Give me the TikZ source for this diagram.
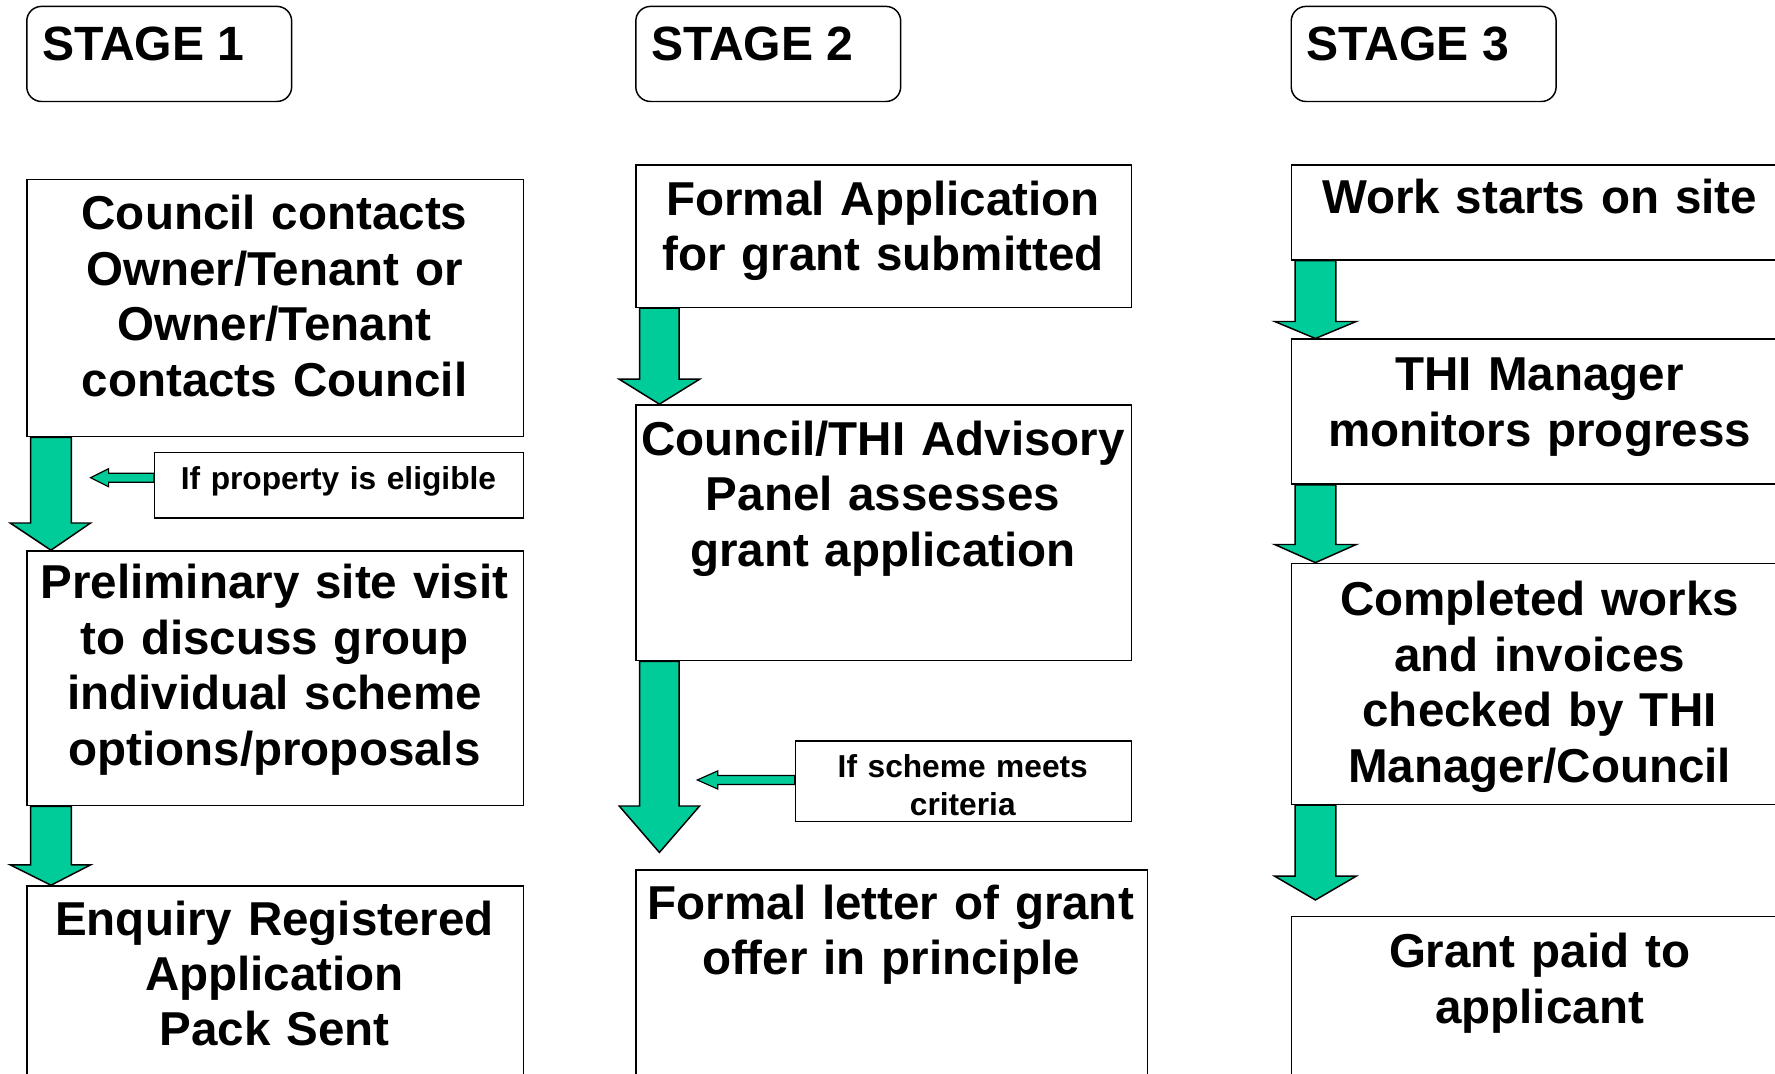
\documentclass[tikz,border=0pt]{standalone}
\usepackage{fontspec}
\setmainfont{Liberation Sans}
\definecolor{tgreen}{RGB}{0,204,153}
\begin{document}
\begin{tikzpicture}[x=1pt,y=-1pt,
  box/.style={draw, line width=1.3pt, inner sep=0pt, anchor=north west},
  txt/.style={font=\bfseries\fontsize{42}{49}\selectfont, align=center, inner sep=0pt, anchor=base},
  small/.style={font=\bfseries\fontsize{28}{33}\selectfont, align=center, inner sep=0pt, anchor=base},
  stg/.style={draw, line width=1.3pt, rounded corners=13pt, inner sep=0pt, anchor=north west, minimum width=234pt, minimum height=84pt},
  stgtxt/.style={font=\bfseries\fontsize{42.5}{49}\selectfont, inner sep=0pt, anchor=base west},
  garrow/.style={draw=black, fill=tgreen, line width=1.3pt, line join=miter},
  sarrow/.style={draw=black, fill=tgreen, line width=1pt, line join=miter}]
\useasboundingbox (0,0) rectangle (1568,948);
\clip (0,0) rectangle (1568,948);
\fill[white] (0,0) rectangle (1568,948);

% stage headers
\node[stg] (s1) at (23,5) {};
\node[stgtxt] (s1t) at (37,53) {STAGE 1};
\node[stg] (s2) at (561,5) {};
\node[stgtxt] (s2t) at (575,53) {STAGE 2};
\node[stg] (s3) at (1140,5) {};
\node[stgtxt] (s3t) at (1154,53) {STAGE 3};

% column 1
\node[box, minimum width=439pt, minimum height=227pt] (A) at (23,158) {};
\node[txt, text width=439pt] (At) at (242.5,203) {Council contacts\\Owner/Tenant or\\Owner/Tenant\\contacts Council};
\node[box, minimum width=439pt, minimum height=225pt] (B) at (23,486) {};
\node[txt, text width=439pt] (Bt) at (242.5,529) {Preliminary site visit\\to discuss group\\individual scheme\\options/proposals};
\node[box, minimum width=439pt, minimum height=220pt] (C) at (23,782) {};
\node[txt, text width=439pt] (Ct) at (242.5,826) {Enquiry Registered\\Application\\Pack Sent};
\node[box, minimum width=326pt, minimum height=58pt] (L1) at (136,399) {};
\node[small, text width=326pt] (L1t) at (299,432) {If property is eligible};

% column 2
\node[box, minimum width=438pt, minimum height=126pt] (D) at (561,145) {};
\node[txt, text width=438pt] (Dt) at (780,190) {Formal Application\\for grant submitted};
\node[box, minimum width=438pt, minimum height=226pt] (E) at (561,357) {};
\node[txt, text width=438pt] (Et) at (780,402) {Council/THI Advisory\\Panel assesses\\grant application};
\node[box, minimum width=297pt, minimum height=71pt] (L2) at (702,654) {};
\node[small, text width=297pt] (L2t) at (850.5,687) {If scheme meets\\criteria};
\node[box, minimum width=452pt, minimum height=220pt] (F) at (561,768) {};
\node[txt, text width=452pt] (Ft) at (787,812) {Formal letter of grant\\offer in principle};

% column 3
\node[box, minimum width=440pt, minimum height=84pt] (G) at (1140,145) {};
\node[txt, text width=440pt] (Gt) at (1360,189) {Work starts on site};
\node[box, minimum width=440pt, minimum height=128pt] (H) at (1140,299) {};
\node[txt, text width=440pt] (Ht) at (1360,345) {THI Manager\\monitors progress};
\node[box, minimum width=440pt, minimum height=213pt] (I) at (1140,497) {};
\node[txt, text width=440pt] (It) at (1360,544) {Completed works\\and invoices\\checked by THI\\Manager/Council};
\node[box, minimum width=440pt, minimum height=220pt] (J) at (1140,809) {};
\node[txt, text width=440pt] (Jt) at (1360,855) {Grant paid to\\applicant};

% free arrow ends
\coordinate (t4) at (582.5,753);
\coordinate (t7) at (1162,795);
\coordinate (l1tip) at (80,422);
\coordinate (l2tip) at (616,689);

% big block arrows
\draw[garrow] (A.south -| 27,0) -- (A.south -| 63,0) -- (63,462) -- (80,462) -- (B.north -| 45,0) -- (9,462) -- (27,462) -- cycle;
\draw[garrow] (B.south -| 27,0) -- (B.south -| 63,0) -- (63,764) -- (80,764) -- (C.north -| 45,0) -- (9,764) -- (27,764) -- cycle;
\draw[garrow] (D.south -| 565,0) -- (D.south -| 600,0) -- (600,335) -- (618,335) -- (E.north -| 582.5,0) -- (547,335) -- (565,335) -- cycle;
\draw[garrow] (E.south -| 565,0) -- (E.south -| 600,0) -- (600,712) -- (618,712) -- (t4) -- (547,712) -- (565,712) -- cycle;
\draw[garrow] (G.south -| 1144,0) -- (G.south -| 1180,0) -- (1180,284) -- (1198,284) -- (H.north -| 1162,0) -- (1126,284) -- (1144,284) -- cycle;
\draw[garrow] (H.south -| 1144,0) -- (H.south -| 1180,0) -- (1180,481) -- (1198,481) -- (I.north -| 1162,0) -- (1126,481) -- (1144,481) -- cycle;
\draw[garrow] (I.south -| 1144,0) -- (I.south -| 1180,0) -- (1180,774) -- (1198,774) -- (t7) -- (1126,774) -- (1144,774) -- cycle;

% small arrows
\draw[sarrow] (L1.west |- 0,418) -- (96,418) -- (96,414) -- (l1tip) -- (96,430) -- (96,426) -- (L1.west |- 0,426) -- cycle;
\draw[sarrow] (L2.west |- 0,685) -- (634,685) -- (634,681) -- (l2tip) -- (634,697) -- (634,693) -- (L2.west |- 0,693) -- cycle;
\end{tikzpicture}
\end{document}
